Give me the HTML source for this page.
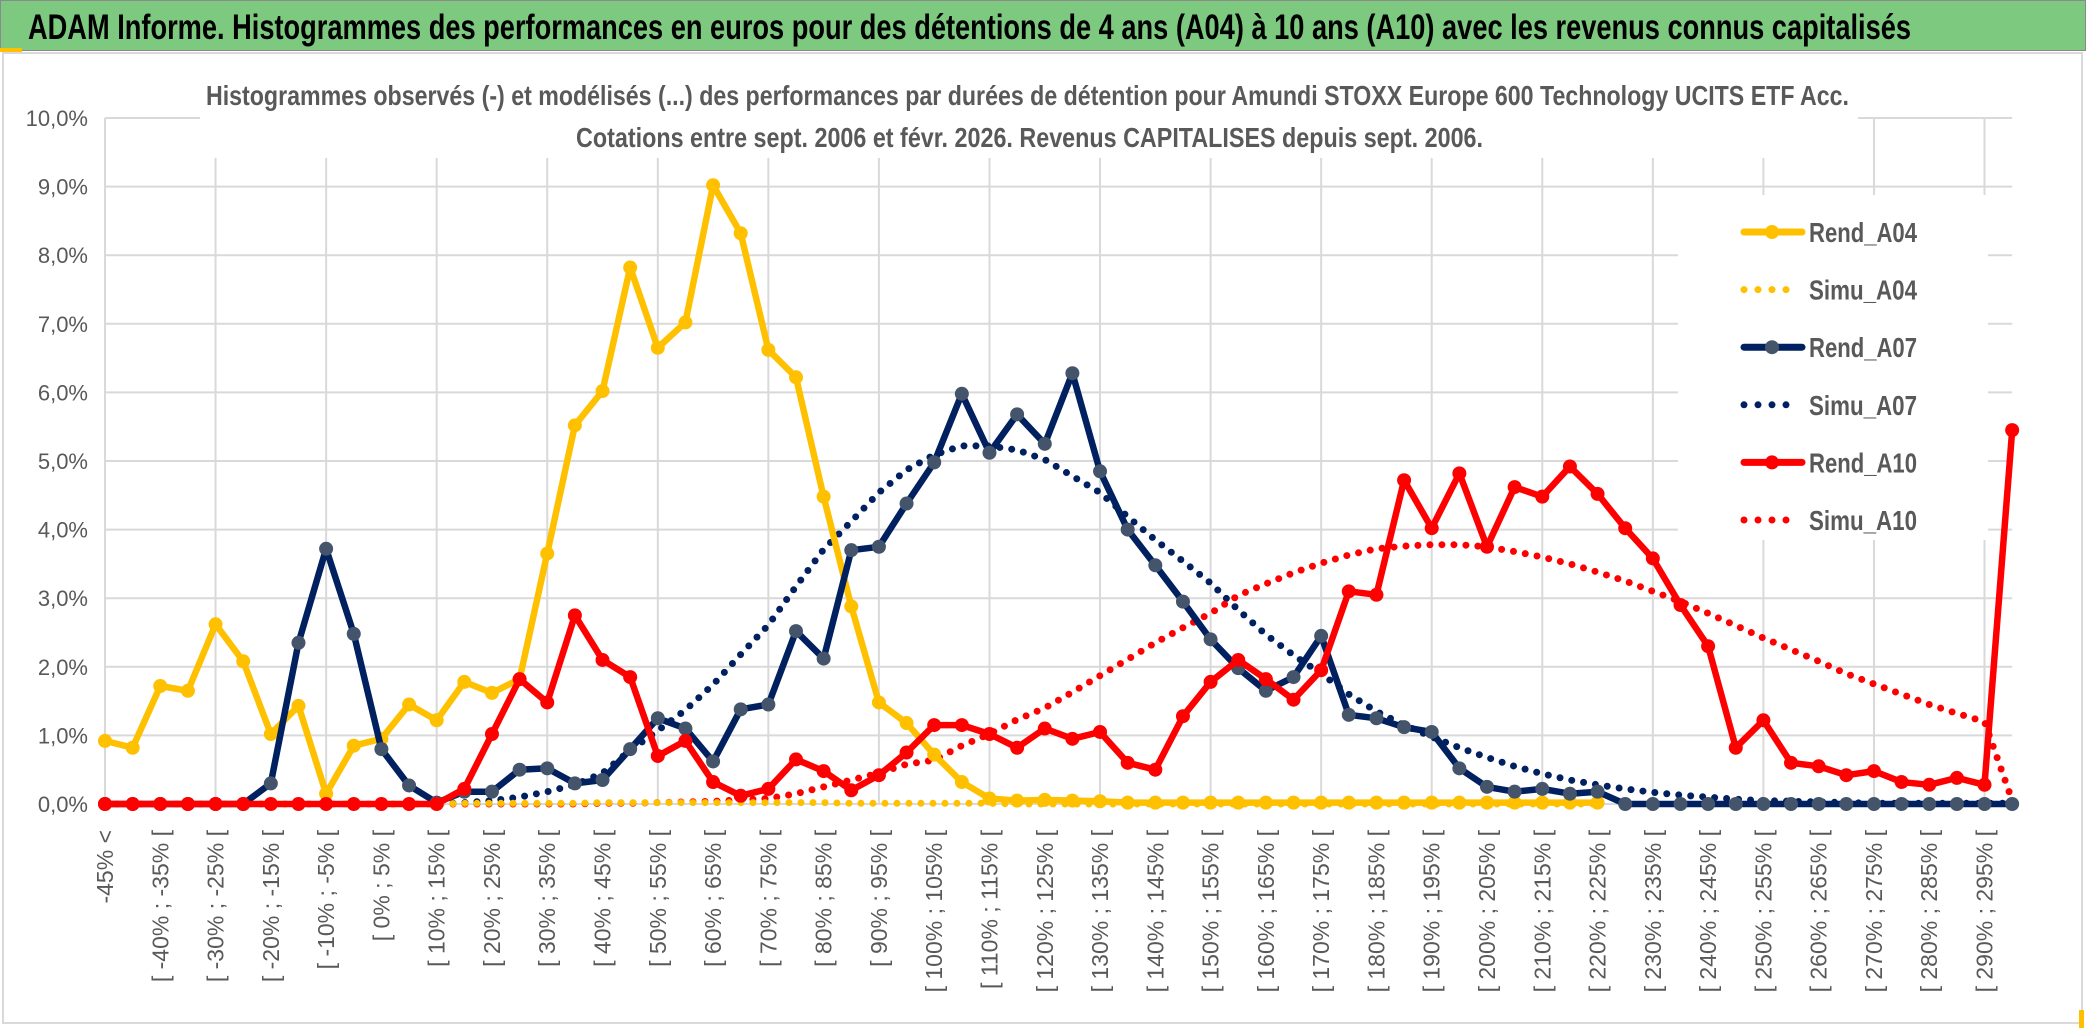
<!DOCTYPE html>
<html><head><meta charset="utf-8"><style>
html,body{margin:0;padding:0;background:#fff;}
svg{display:block;font-family:"Liberation Sans Narrow","Liberation Sans",sans-serif;}
</style></head><body>
<svg id="chart" width="2086" height="1031" viewBox="0 0 2086 1031" xmlns="http://www.w3.org/2000/svg">
<rect x="0" y="0" width="2086" height="1031" fill="#fff"/>
<rect x="0.5" y="0.5" width="2085" height="50" fill="#7DC97F" stroke="#8a8a8a"/>
<text x="28" y="39" font-size="35" font-weight="bold" fill="#000" textLength="1883" lengthAdjust="spacingAndGlyphs">ADAM Informe. Histogrammes des performances en euros pour des détentions de 4 ans (A04) à 10 ans (A10) avec les revenus connus capitalisés</text>
<rect x="3" y="53" width="2079" height="970" fill="none" stroke="#d9d9d9" stroke-width="2"/>
<rect x="0" y="48" width="22" height="4" fill="#FFC000"/>
<rect x="2079" y="1010" width="5" height="18" fill="#FFC000"/>
<g id="grid"></g>
<rect x="200" y="68" width="1658" height="90" fill="#fff"/>
<text x="206" y="105" font-size="28" font-weight="600" fill="#595959" textLength="1643" lengthAdjust="spacingAndGlyphs">Histogrammes observés (-) et modélisés (...) des performances par durées de détention pour Amundi STOXX Europe 600 Technology UCITS ETF Acc.</text>
<text x="576" y="147" font-size="28" font-weight="600" fill="#595959" textLength="907" lengthAdjust="spacingAndGlyphs">Cotations entre sept. 2006 et févr. 2026. Revenus CAPITALISES depuis sept. 2006.</text>
<g id="yaxis"></g>
<g id="xaxis"></g>
<g id="series"></g>
<rect x="1678" y="195" width="310" height="345" fill="#fff"/>
<g id="legend"></g>
</svg>
<script>
const yTicks = [0,1,2,3,4,5,6,7,8,9,10];
const rendA04 = [0.92,0.82,1.72,1.65,2.62,2.08,1.02,1.43,0.15,0.85,0.95,1.45,1.22,1.78,1.62,1.82,3.65,5.52,6.02,7.82,6.65,7.02,9.02,8.32,6.62,6.22,4.48,2.88,1.48,1.18,0.72,0.32,0.08,0.05,0.06,0.05,0.04,0.02,0.02,0.02,0.02,0.02,0.02,0.02,0.02,0.02,0.02,0.02,0.02,0.02,0.02,0.02,0.02,0.02,0.02];
const simuA04 = [0,0,0,0,0,0,0,0,0,0,0,0,0,0.01,0.01,0.01,0.01,0.01,0.02,0.02,0.02,0.02,0.02,0.02,0.02,0.02,0.02,0.01,0.01,0.01,0.01,0.01,0.01,0,0,0,0,0,0,0,0,0,0,0,0,0,0,0,0,0,0,0,0,0,0];
const rendA07 = [0,0,0,0,0,0,0.3,2.35,3.72,2.48,0.8,0.27,0.02,0.18,0.18,0.5,0.52,0.3,0.35,0.8,1.25,1.1,0.62,1.38,1.45,2.52,2.12,3.7,3.75,4.38,4.98,5.98,5.12,5.68,5.25,6.28,4.85,4.0,3.48,2.95,2.4,1.98,1.65,1.85,2.45,1.3,1.25,1.12,1.05,0.52,0.25,0.18,0.22,0.15,0.18,0,0,0,0,0,0,0,0,0,0,0,0,0,0,0];
const simuA07 = [0,0,0,0,0,0,0,0,0,0,0,0,0,0.02,0.05,0.1,0.18,0.28,0.45,0.78,1.07,1.37,1.74,2.18,2.61,3.17,3.71,4.12,4.54,4.87,5.09,5.22,5.22,5.16,5.02,4.78,4.54,4.19,3.85,3.54,3.22,2.83,2.47,2.17,1.9,1.6,1.35,1.15,0.98,0.82,0.68,0.55,0.44,0.35,0.28,0.22,0.17,0.13,0.1,0.07,0.05,0.04,0.03,0.02,0.01,0.01,0.01,0.01,0.01,0.01];
const rendA10 = [0,0,0,0,0,0,0,0,0,0,0,0,0,0.22,1.02,1.82,1.48,2.75,2.1,1.85,0.7,0.92,0.32,0.12,0.22,0.65,0.48,0.2,0.42,0.75,1.15,1.15,1.02,0.82,1.1,0.95,1.05,0.6,0.5,1.28,1.78,2.1,1.82,1.52,1.95,3.1,3.05,4.72,4.02,4.82,3.75,4.62,4.48,4.92,4.52,4.02,3.58,2.9,2.3,0.82,1.22,0.6,0.55,0.42,0.48,0.32,0.28,0.38,0.28,5.45];
const simuA10 = [0,0,0,0,0,0,0,0,0,0,0,0,0,0,0,0,0,0,0.01,0.01,0.02,0.03,0.04,0.06,0.08,0.15,0.25,0.35,0.45,0.58,0.64,0.85,1.02,1.23,1.4,1.63,1.87,2.11,2.35,2.57,2.78,3.04,3.21,3.37,3.51,3.63,3.72,3.76,3.78,3.78,3.75,3.68,3.6,3.5,3.38,3.25,3.1,2.95,2.78,2.6,2.42,2.25,2.08,1.9,1.75,1.6,1.45,1.32,1.2,0.05];
const categoryLower = [];
for (let n = 0; n < 70; n++) categoryLower.push(-50 + 5*n);

const NS = "http://www.w3.org/2000/svg";
const X0 = 105, STEP = 27.64, Y0 = 804, YPX = 68.6;
function xs(i){ return X0 + i*STEP; }
function ys(v){ return Y0 - v*YPX; }
function mk(tag, attrs, parent){ const e=document.createElementNS(NS,tag); for(const k in attrs) e.setAttribute(k,attrs[k]); parent.appendChild(e); return e; }

const grid = document.getElementById('grid');
const xLast = xs(categoryLower.length-1);
yTicks.forEach(t=>{
  const l = mk('line',{x1:X0,x2:xLast,y1:ys(t),y2:ys(t),stroke:'#d9d9d9','stroke-width':2},grid);
  
  
});
for (let i=0;i<categoryLower.length;i+=4){
  const l = mk('line',{x1:xs(i),x2:xs(i),y1:ys(10),y2:Y0,stroke:'#d9d9d9','stroke-width':2},grid);
  
  
}
const yaxis = document.getElementById('yaxis');
yTicks.forEach(t=>{
  const tx = mk('text',{x:88,y:ys(t)+8,'text-anchor':'end','font-size':22,fill:'#595959'},yaxis);
  tx.textContent = t.toFixed(1).replace('.',',')+'%';
  
  
});
const xaxis = document.getElementById('xaxis');
for (let i=0;i<categoryLower.length;i+=2){
  const a = categoryLower[i];
  const label = i===0 ? '-45% <' : '[ '+a+'% ; '+(a+5)+'% [';
  const x = xs(i)+8;
  const tx = mk('text',{x:x,y:830,transform:'rotate(-90 '+x+' 830)','text-anchor':'end','font-size':23,fill:'#595959','font-family':'"Liberation Sans",sans-serif'},xaxis);
  tx.textContent = label;
  
  
}
const series = document.getElementById('series');
function pts(arr){ return arr.map((v,i)=>xs(i).toFixed(1)+','+ys(v).toFixed(1)).join(' '); }
function dotted(arr,color,name){
  const p = mk('polyline',{points:pts(arr),fill:'none',stroke:color,'stroke-width':7,'stroke-linecap':'round','stroke-dasharray':'0 12'},series);
  
  
}
function solid(arr,color,mcolor,name){
  const g = mk('g',{},series);
  
  
  mk('polyline',{points:pts(arr),fill:'none',stroke:color,'stroke-width':6.5,'stroke-linejoin':'round'},g);
  arr.forEach((v,i)=>{
    const c = mk('circle',{cx:xs(i),cy:ys(v),r:7,fill:mcolor},g);
    
    
  });
}
dotted(simuA07,'#002060','simu-a07-line');
dotted(simuA10,'#FF0000','simu-a10-line');
dotted(simuA04,'#FFC000','simu-a04-line');
solid(rendA04,'#FFC000','#FFC000','rend-a04-line');
solid(rendA07,'#002060','#44546A','rend-a07-line');
solid(rendA10,'#FF0000','#FF0000','rend-a10-line');

const legendNames = ['Rend_A04','Simu_A04','Rend_A07','Simu_A07','Rend_A10','Simu_A10'];
const legendColors = ['#FFC000','#FFC000','#002060','#002060','#FF0000','#FF0000'];
const legend = document.getElementById('legend');
legendNames.forEach((nm,k)=>{
  const y = 232 + k*57.6;
  const g = mk('g',{},legend);
  
  
  if (k%2===0){
    mk('line',{x1:1744,x2:1802,y1:y,y2:y,stroke:legendColors[k],'stroke-width':7,'stroke-linecap':'round'},g);
    mk('circle',{cx:1772,cy:y,r:7,fill:k===2?'#44546A':legendColors[k]},g);
  } else {
    mk('line',{x1:1744,x2:1800,y1:y,y2:y,stroke:legendColors[k],'stroke-width':7,'stroke-linecap':'round','stroke-dasharray':'0 14'},g);
  }
  const t = mk('text',{x:1809,y:y+10,'font-size':28,'font-weight':600,fill:'#595959',textLength:108,lengthAdjust:'spacingAndGlyphs'},g);
  t.textContent = nm;
});
</script>
</body></html>
